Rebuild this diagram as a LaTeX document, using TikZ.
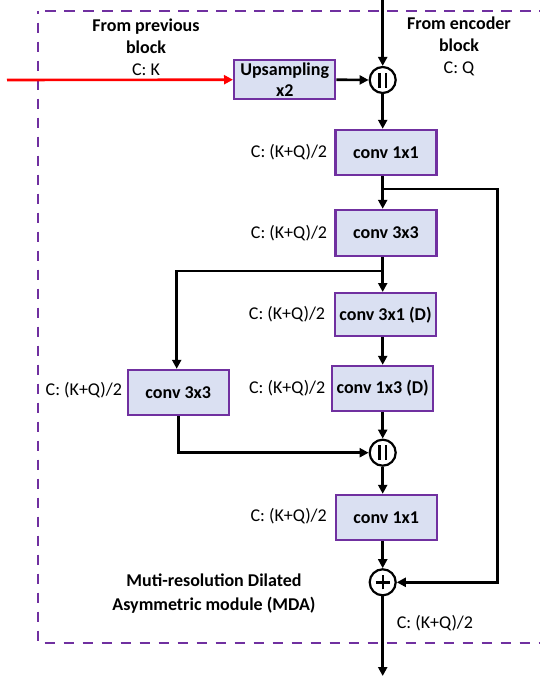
\documentclass[tikz,border=0pt]{standalone}
\usepackage{fontspec}
\setmainfont{Carlito}
\usetikzlibrary{arrows.meta,calc}
\definecolor{boxpurple}{RGB}{112,48,160}
\definecolor{boxfill}{RGB}{218,224,242}
\definecolor{inred}{RGB}{255,0,0}
\begin{document}
\begin{tikzpicture}[x=1pt,y=-1pt,
  every node/.style={font=\fontsize{18}{22}\selectfont},
  opbox/.style={draw=boxpurple, fill=boxfill, line width=2.4pt, inner sep=0pt,
    minimum width=101pt, minimum height=45pt, align=center,
    font=\fontsize{18}{22}\selectfont\bfseries},
  flow/.style={line width=2.6pt, -{Triangle[length=9pt,width=9pt]}},
  joinop/.style={circle, draw, line width=2.2pt, fill=white, inner sep=0pt, minimum size=26pt},
  concat/.style={joinop, path picture={
      \draw[line width=2.3pt] ([xshift=-3.3pt,yshift=-7.5pt]path picture bounding box.center) -- ++(0pt,15pt);
      \draw[line width=2.3pt] ([xshift=3.3pt,yshift=-7.5pt]path picture bounding box.center) -- ++(0pt,15pt);}},
  addop/.style={joinop, path picture={
      \draw[line width=2.4pt] ([xshift=-7pt]path picture bounding box.center) -- ++(14pt,0pt);
      \draw[line width=2.4pt] ([yshift=-7pt]path picture bounding box.center) -- ++(0pt,14pt);}},
  chlabel/.style={anchor=east, inner sep=0pt},
  heading/.style={align=center, inner sep=0pt}
]
\useasboundingbox (0,0) rectangle (539,677);
\fill[white] (0,0) rectangle (539,677);

% module frame
\draw[boxpurple, line width=2.3pt, dash pattern=on 10.5pt off 8.5pt, dash phase=7.3pt] (38.3,11) rectangle (570,643.3);

% operations
\node[opbox, minimum height=39pt] (up) at (284.7,79.7) {Upsampling\\[-1pt]x2};
\node[concat] (cat1) at (382.7,80) {};
\node[opbox] (conv1) at (386,152.5) {conv 1x1};
\node[opbox, minimum height=46pt] (conv2) at (386,233) {conv 3x3};
\node[opbox, minimum height=43pt] (conv31) at (385.5,314.7) {conv 3x1 (D)};
\node[opbox] (conv13) at (382.7,388.5) {conv 1x3 (D)};
\node[opbox] (convL) at (178.3,392.5) {conv 3x3};
\node[concat] (cat2) at (382.7,452.7) {};
\node[opbox] (conv1b) at (386.2,517.5) {conv 1x1};
\node[addop] (plus) at (382.7,582.3) {};

% headings
\node[heading] (prevtxt) at (146,47.5) {\bfseries From previous\\\bfseries block\\C: K};
\node[heading] (enctxt) at (459,46) {\bfseries From encoder\\\bfseries block\\C: Q};
\node[heading, font=\fontsize{18}{24}\selectfont\bfseries] (mdatxt) at (214,594) {Muti-resolution Dilated\\Asymmetric module (MDA)};

% channel labels
\node[chlabel] (l1) at ([xshift=-7pt]conv1.west) {C: (K+Q)/2};
\node[chlabel] (l2) at ([xshift=-7pt]conv2.west) {C: (K+Q)/2};
\node[chlabel] (l3) at ([xshift=-8.5pt,yshift=1pt]conv31.west) {C: (K+Q)/2};
\node[chlabel] (l4) at ([xshift=-5.5pt,yshift=0pt]conv13.west) {C: (K+Q)/2};
\node[chlabel] (l5) at ([xshift=-4.5pt,yshift=2pt]convL.west) {C: (K+Q)/2};
\node[chlabel] (l6) at ([xshift=-7.5pt,yshift=1pt]conv1b.west) {C: (K+Q)/2};
\node[anchor=west, inner sep=0pt] (l7) at (396.7,623.3) {C: (K+Q)/2};

% free ends and junctions
\coordinate (redin) at (7,80);
\coordinate (encin) at (382.7,0);
\coordinate (split1) at (382.7,189);
\coordinate (skipturn) at (497.7,189);
\coordinate (split2) at (382.7,271);
\coordinate (outend) at (382.7,676);

% connectors
\draw[flow, inred] (redin) -- (up.west);
\draw[flow] (up.east) -- (cat1.west);
\draw[flow] (encin) -- (cat1.north);
\draw[flow] (cat1.south) -- (conv1.north -| cat1);
\draw[flow] (conv1.south -| cat1) -- (conv2.north -| cat1);
\draw[flow] (split1) -- (skipturn) |- (plus.east);
\draw[flow] (conv2.south -| cat1) -- (conv31.north -| cat1);
\draw[flow] (split2) -| ([xshift=-1.6pt]convL.north);
\draw[flow] (conv31.south -| cat1) -- (conv13.north -| cat1);
\draw[flow] (conv13.south -| cat1) -- (cat2.north);
\draw[flow] (convL.south) |- (cat2.west);
\draw[flow] (cat2.south) -- (conv1b.north -| cat1);
\draw[flow] (conv1b.south -| cat1) -- (plus.north);
\draw[flow] (plus.south) -- (outend);
\end{tikzpicture}
\end{document}
